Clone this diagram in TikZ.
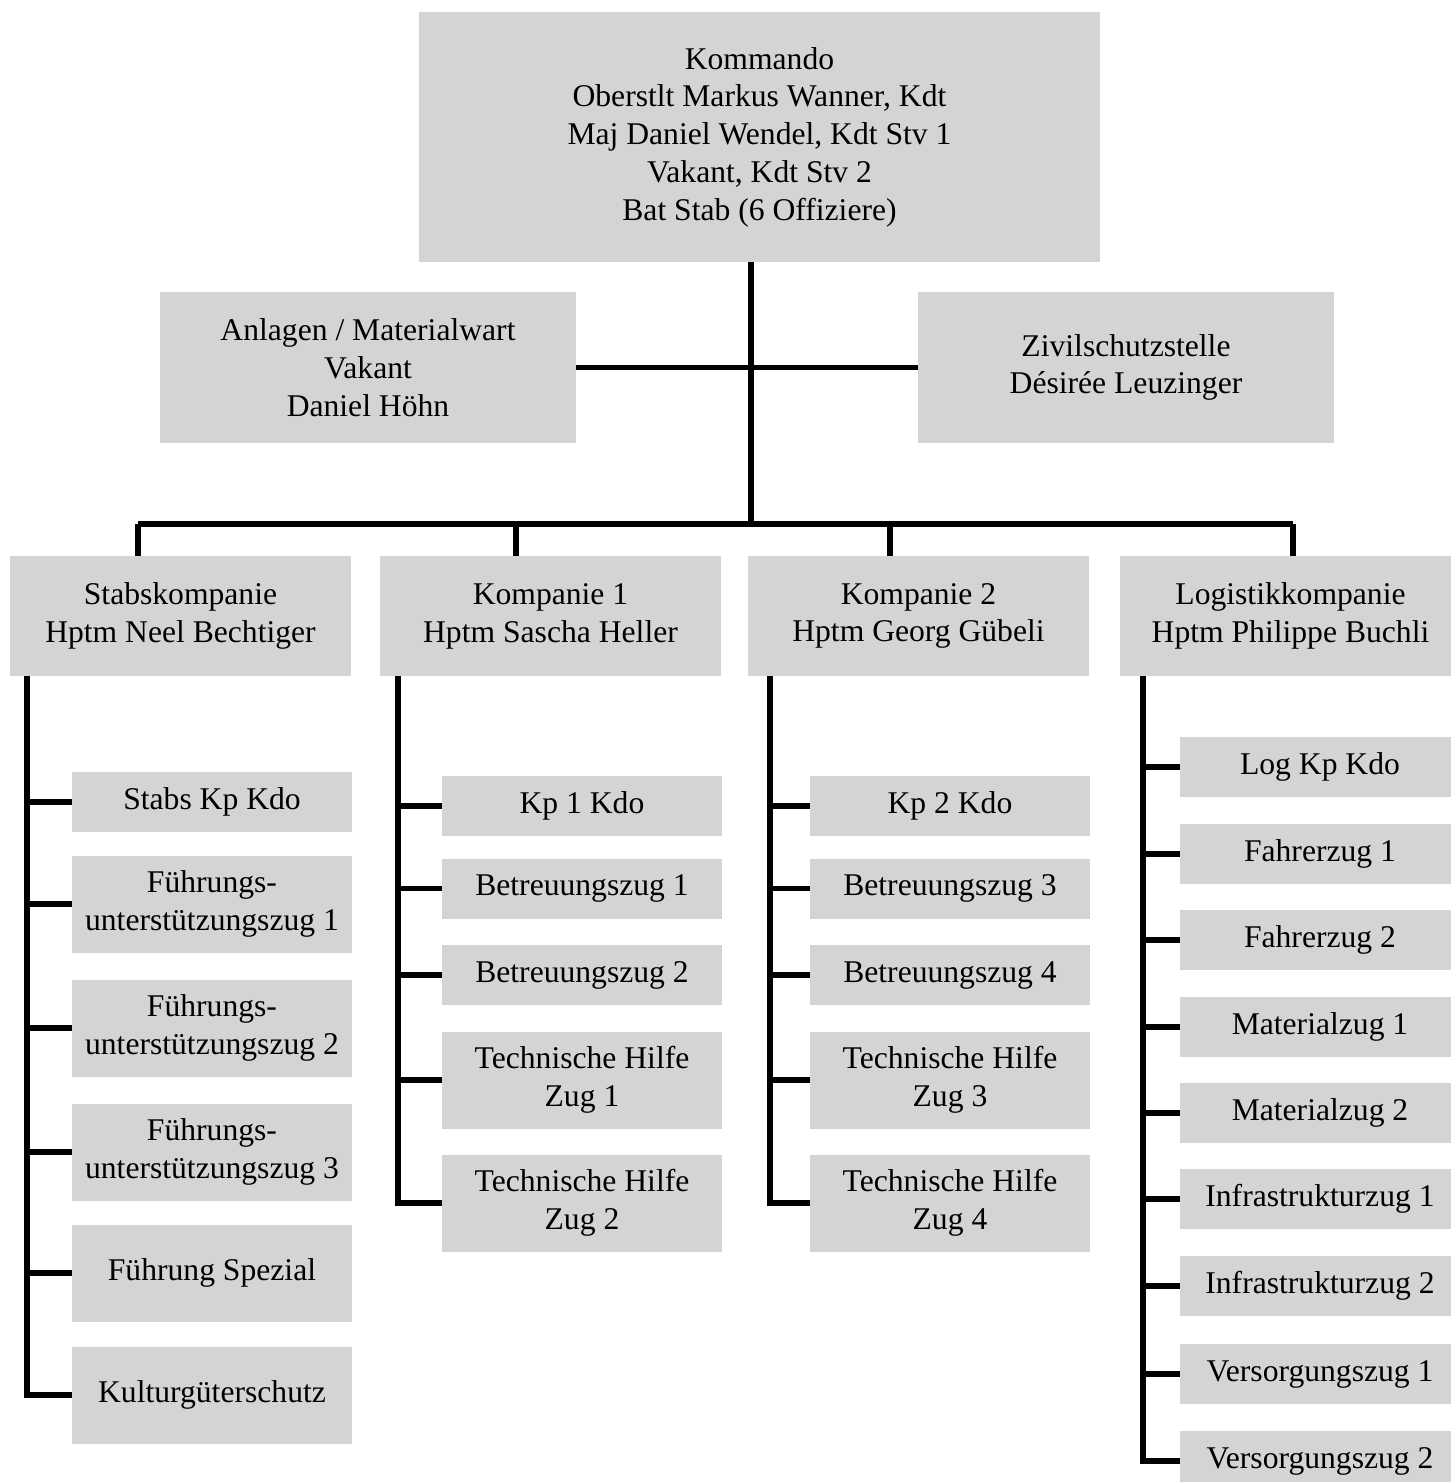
\documentclass[tikz,border=0pt]{standalone}
\usepackage{fontspec}
\setmainfont{Liberation Serif}
\usepackage{tikz}
\usetikzlibrary{calc,positioning}
\definecolor{boxgray}{RGB}{212,212,212}

\begin{document}
\begin{tikzpicture}[x=0.02cm, y=-0.02cm,
            orgbox/.style={rectangle, fill=boxgray, align=center, inner sep=0pt,
            text=black, font=\fontsize{18}{21.5}\selectfont},
            kdobox/.style={orgbox, minimum width=13.62cm, minimum height=5cm},
            sidebox/.style={orgbox, minimum width=8.32cm, minimum height=3.02cm},
            kpbox/.style={orgbox, minimum width=6.82cm, minimum height=2.4cm},
            unit/.style={orgbox, minimum width=5.6cm, minimum height=1.2cm},
            unitbig/.style={orgbox, minimum width=5.6cm, minimum height=1.94cm},
            conn/.style={draw=black, line width=3pt}]
            \useasboundingbox (0,0) rectangle (1451,1482);

            % Kommando und Stellen
            \node (kdo) [kdobox] at (759.5,137)
            {Kommando\\ Oberstlt Markus Wanner, Kdt\\ Maj Daniel Wendel, Kdt Stv 1\\
             Vakant, Kdt Stv 2\\ Bat Stab (6 Offiziere)};
            \node (anlagen) [sidebox] at (368,367.5) {Anlagen / Materialwart\\ Vakant\\ Daniel Höhn};
            \node (zivil) [sidebox] at (1126,367.5) {Zivilschutzstelle\\ Désirée Leuzinger};

            % Kompanien
            \node (stabs) [kpbox] at (180.5,616) {Stabskompanie\\ Hptm Neel Bechtiger};
            \node (kp1) [kpbox] at (550.5,616) {Kompanie 1\\ Hptm Sascha Heller};
            \node (kp2) [kpbox] at (918.5,616) {Kompanie 2\\ Hptm Georg Gübeli};
            \node (log) [kpbox] at (1290.5,616) {Logistikkompanie\\ Hptm Philippe Buchli};

            % Stabskompanie
            \node (skdo) [unit] at (212,802) {Stabs Kp Kdo};
            \node (fu1) [unitbig] at (212,904) {Führungs-\\ unterstützungszug 1};
            \node (fu2) [unitbig] at (212,1028) {Führungs-\\ unterstützungszug 2};
            \node (fu3) [unitbig] at (212,1152) {Führungs-\\ unterstützungszug 3};
            \node (fspez) [unitbig] at (212,1273) {Führung Spezial};
            \node (kgs) [unitbig] at (212,1395) {Kulturgüterschutz};

            % Kompanie 1
            \node (kdoa) [unit] at (582,806) {Kp 1 Kdo};
            \node (bza) [unit] at (582,888.5) {Betreuungszug 1};
            \node (bzb) [unit] at (582,975) {Betreuungszug 2};
            \node (tha) [unitbig] at (582,1080) {Technische Hilfe\\ Zug 1};
            \node (thb) [unitbig] at (582,1203) {Technische Hilfe\\ Zug 2};

            % Kompanie 2
            \node (kdob) [unit] at (950,806) {Kp 2 Kdo};
            \node (bzc) [unit] at (950,888.5) {Betreuungszug 3};
            \node (bzd) [unit] at (950,975) {Betreuungszug 4};
            \node (thc) [unitbig] at (950,1080) {Technische Hilfe\\ Zug 3};
            \node (thd) [unitbig] at (950,1203) {Technische Hilfe\\ Zug 4};

            % Logistikkompanie
            \node (lkdo) [unit] at (1320,767) {Log Kp Kdo};
            \node (fza) [unit] at (1320,854) {Fahrerzug 1};
            \node (fzb) [unit] at (1320,940) {Fahrerzug 2};
            \node (mza) [unit] at (1320,1027) {Materialzug 1};
            \node (mzb) [unit] at (1320,1113) {Materialzug 2};
            \node (iza) [unit] at (1320,1199) {Infrastrukturzug 1};
            \node (izb) [unit] at (1320,1286) {Infrastrukturzug 2};
            \node (vza) [unit] at (1320,1374) {Versorgungszug 1};
            \node (vzb) [unit] at (1320,1461) {Versorgungszug 2};

            % Verbindungen oben
            \coordinate (top) at (751,262);
            \coordinate (bus) at (751,524);
            \coordinate (b1) at (138,524);
            \coordinate (b2) at (516,524);
            \coordinate (b3) at (890,524);
            \coordinate (b4) at (1293,524);
            \draw[conn] (top) -- (bus);
            \draw[conn] (anlagen.east) -- (zivil.west);
            \draw[conn] (b1) -- (b4);
            \foreach \b/\n in {b1/stabs, b2/kp1, b3/kp2, b4/log}
                \draw[conn] (\b) -- (\b |- \n.north);

            % Verbindungen unten
            \coordinate (sa) at (27,676);
            \coordinate (sb) at (398,676);
            \coordinate (sc) at (770,676);
            \coordinate (sd) at (1143,676);
            \draw[conn] (sa) |- (kgs.west);
            \draw[conn] (sb) |- (thb.west);
            \draw[conn] (sc) |- (thd.west);
            \draw[conn] (sd) |- (vzb.west);
            \foreach \n in {skdo, fu1, fu2, fu3, fspez}
                \draw[conn] (sa |- \n.west) -- (\n.west);
            \foreach \n in {kdoa, bza, bzb, tha}
                \draw[conn] (sb |- \n.west) -- (\n.west);
            \foreach \n in {kdob, bzc, bzd, thc}
                \draw[conn] (sc |- \n.west) -- (\n.west);
            \foreach \n in {lkdo, fza, fzb, mza, mzb, iza, izb, vza}
                \draw[conn] (sd |- \n.west) -- (\n.west);
        \end{tikzpicture}
\end{document}
